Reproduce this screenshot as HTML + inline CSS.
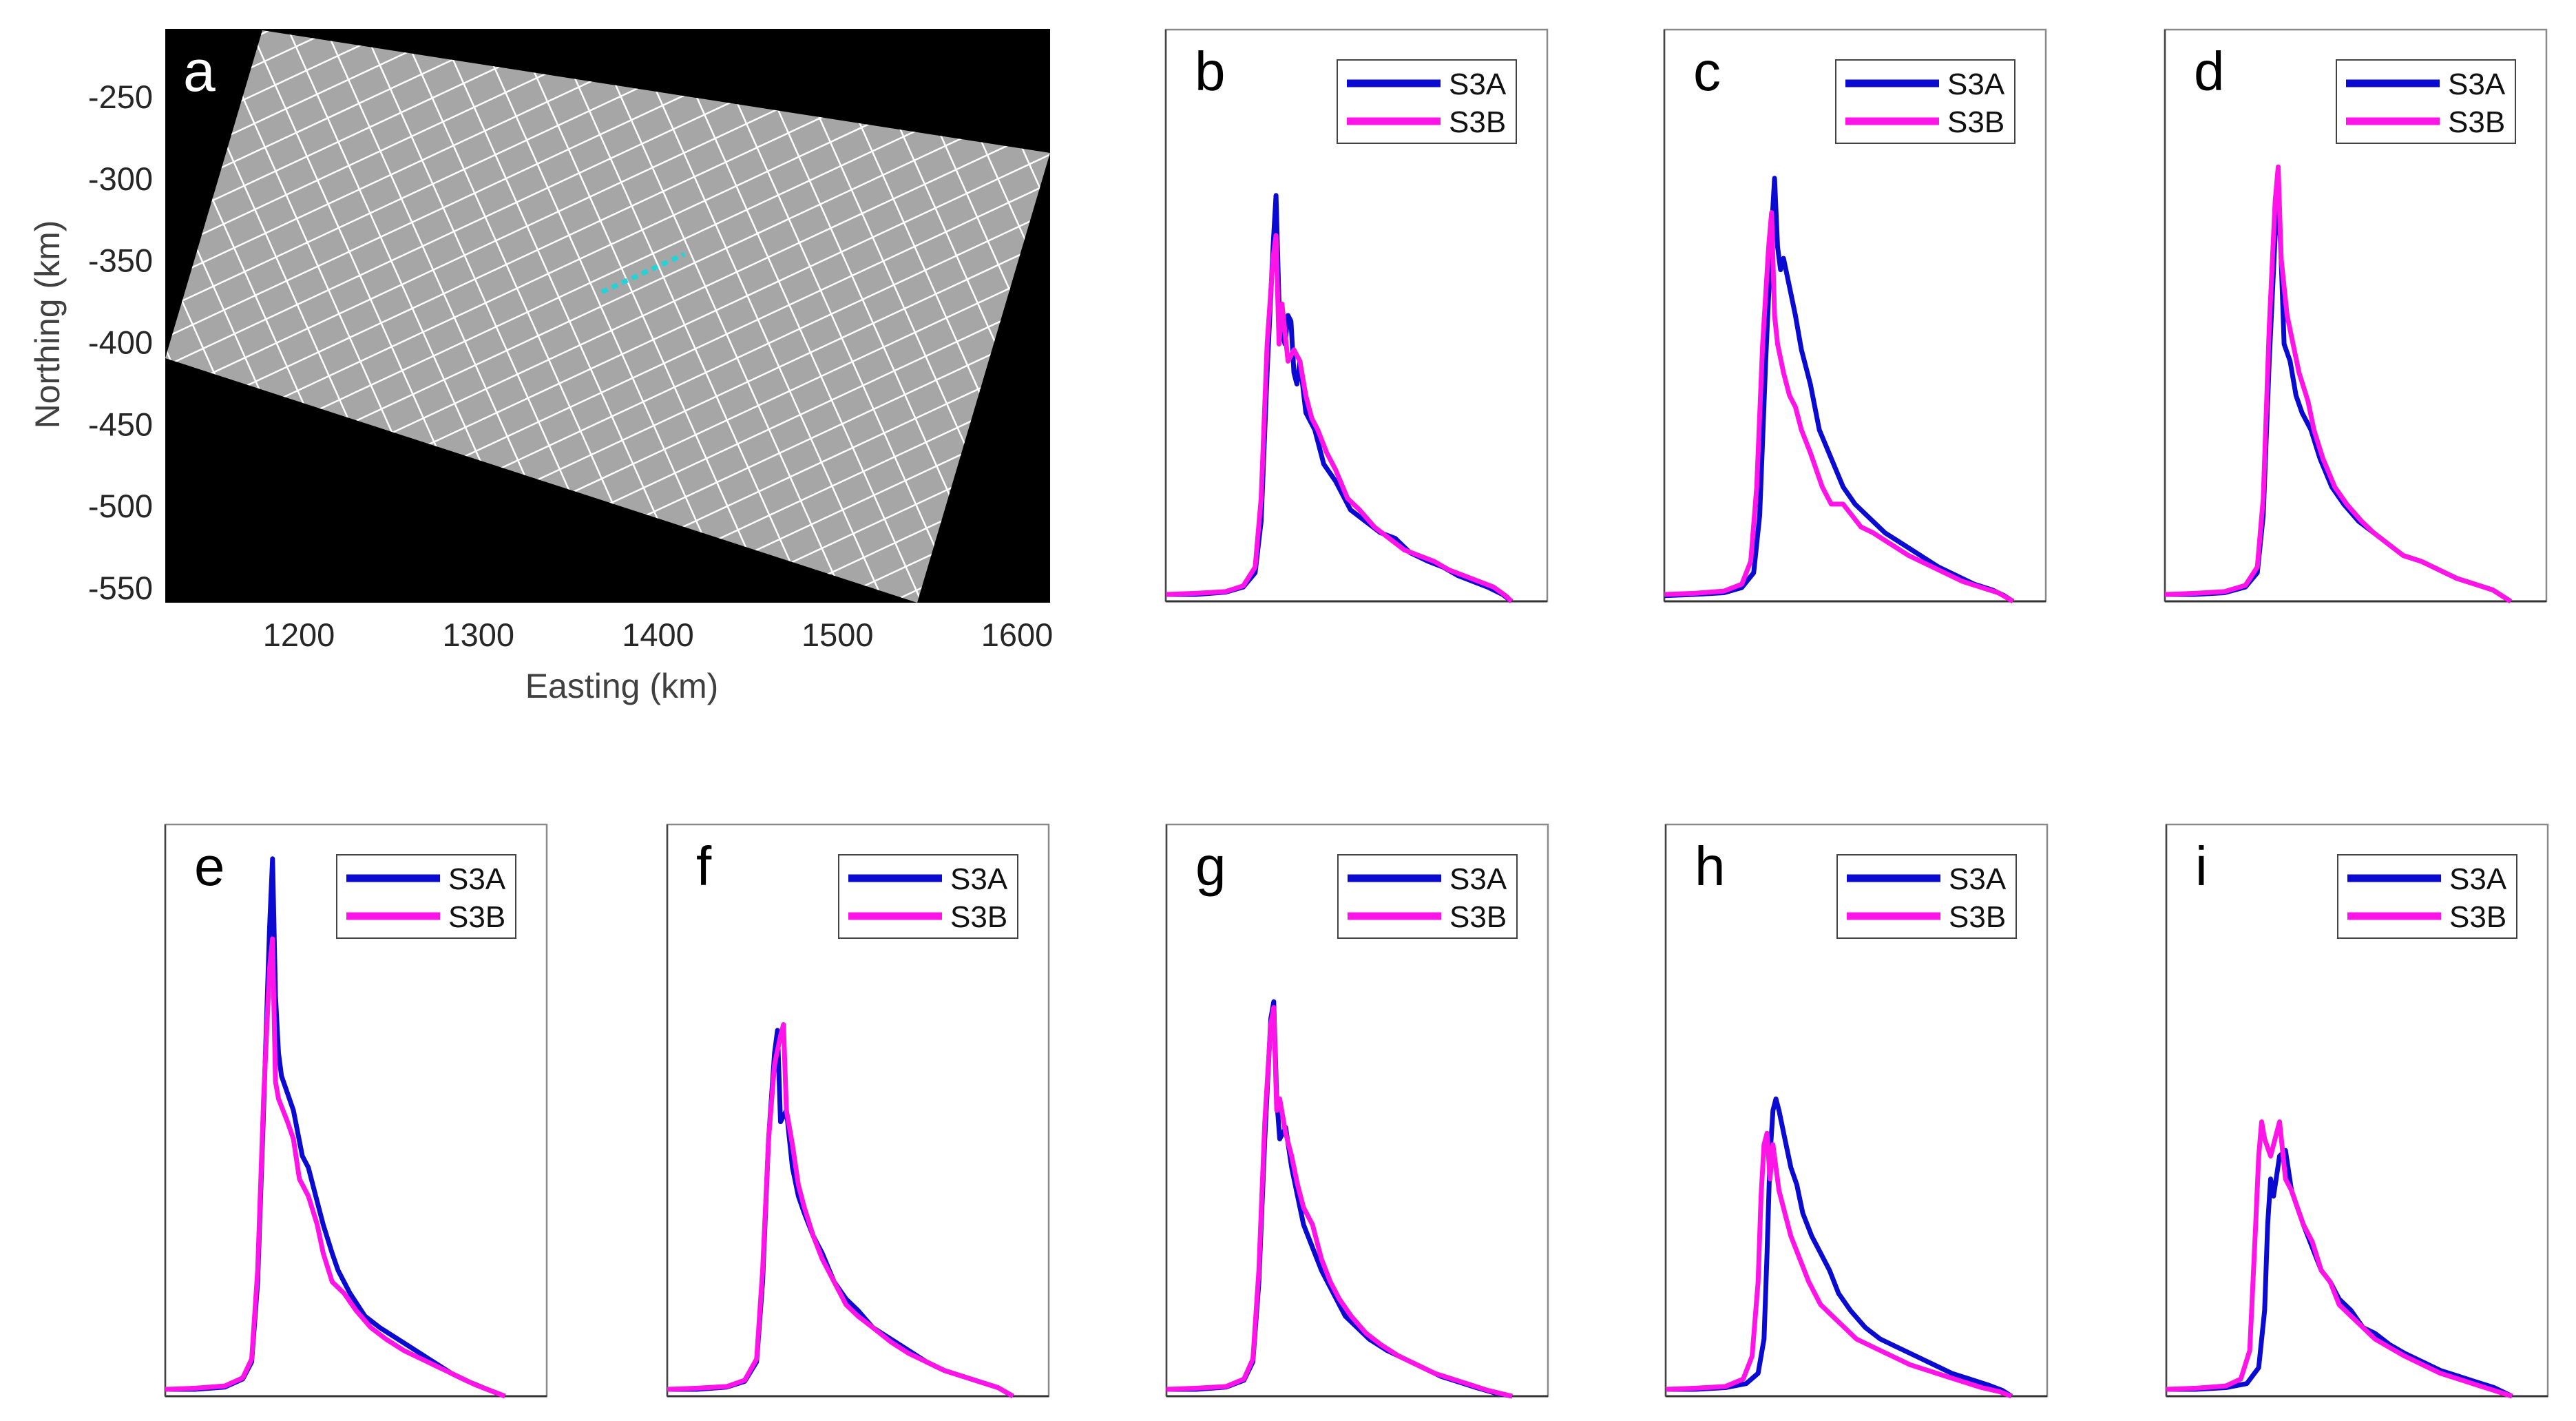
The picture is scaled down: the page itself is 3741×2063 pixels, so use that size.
<!DOCTYPE html>
<html><head><meta charset="utf-8">
<style>
html,body{margin:0;padding:0;background:#fff;width:3741px;height:2063px;overflow:hidden;position:relative;}
svg{display:block;position:absolute;left:0;top:0;overflow:hidden;}
text{font-family:"Liberation Sans",sans-serif;}
</style></head>
<body>
<svg id="fig" width="3741" height="2063" viewBox="0 0 3741 2063" xmlns="http://www.w3.org/2000/svg">
<defs>
<clipPath id="clipA"><rect x="240" y="42" width="1285" height="833"/></clipPath>
<clipPath id="clipSwath"><polygon points="381,44 1525,222 1332,875 240,520"/></clipPath>
</defs>
<g id="panelA">
<rect x="240" y="42" width="1285" height="833" fill="#000"/>
<polygon points="381,44 1525,222 1332,875 240,520" fill="#a6a6a6"/>
<g id="gridLines" clip-path="url(#clipSwath)" stroke="#fff" stroke-width="2.5"></g>
<line x1="874" y1="424" x2="994" y2="369" stroke="#22d3d8" stroke-width="7" stroke-dasharray="9,7"/>
<text x="266" y="132" font-size="84" fill="#fff">a</text>
<g id="xticksA" font-size="47" fill="#262626" text-anchor="middle"></g>
<g id="yticksA" font-size="47" fill="#262626" text-anchor="end"></g>
<text x="903" y="1013" font-size="50" fill="#404040" text-anchor="middle">Easting (km)</text>
<text x="0" y="0" font-size="50" fill="#404040" text-anchor="middle" transform="translate(86,471) rotate(-90)">Northing (km)</text>
</g>
<g id="panels"></g>
</svg>
<script>
const eastTicks = [1200,1300,1400,1500,1600];
const northTicks = [-250,-300,-350,-400,-450,-500,-550];
function ax(e){ return 434 + (e-1200)*(1477-434)/400; }
function ay(n){ return 141 + (-250-n)*(854-141)/300; }

const b_S3A = [[0,.012],[10,.012],[20,.016],[26,.025],[30,.05],[32,.14],[34,.4],[36,.62],[37,.71],[38,.52],[39,.47],[40,.45],[41,.5],[42,.49],[43,.4],[44,.38],[45,.42],[47,.33],[50,.3],[53,.24],[57,.21],[62,.16],[67,.14],[72,.12],[77,.11],[82,.085],[88,.07],[93,.06],[98,.045],[103,.035],[108,.025],[113,.012],[116,0]];
const b_S3B = [[0,.012],[10,.014],[20,.017],[26,.027],[30,.06],[32,.18],[34,.45],[36,.6],[37,.64],[38,.45],[39,.52],[41,.42],[43,.44],[45,.42],[47,.36],[49,.32],[51,.3],[54,.26],[57,.23],[61,.18],[65,.16],[70,.13],[75,.11],[80,.09],[85,.08],[90,.07],[95,.055],[100,.045],[105,.035],[110,.025],[114,.01],[116,0]];
const c_S3A = [[0,.01],[10,.012],[20,.015],[26,.024],[30,.05],[32,.15],[34,.42],[36,.65],[37,.74],[38,.62],[39,.58],[40,.6],[42,.55],[44,.5],[46,.44],[49,.38],[52,.3],[56,.25],[60,.2],[64,.17],[68,.15],[74,.12],[80,.1],[86,.08],[92,.06],[98,.045],[104,.03],[110,.02],[114,.01],[117,0]];
const c_S3B = [[0,.012],[10,.014],[20,.018],[26,.03],[29,.07],[31,.2],[33,.45],[35,.62],[36,.68],[37,.5],[38,.45],[40,.4],[42,.36],[44,.34],[46,.3],[49,.26],[53,.2],[56,.17],[60,.17],[63,.15],[66,.13],[70,.12],[76,.1],[82,.08],[88,.065],[94,.05],[100,.035],[106,.025],[112,.015],[117,0]];
const d_S3A = [[0,.012],[10,.012],[20,.015],[27,.025],[31,.05],[33,.15],[35,.42],[37,.64],[38,.72],[39,.6],[40,.45],[42,.42],[44,.36],[46,.33],[49,.3],[52,.25],[56,.2],[60,.17],[65,.14],[70,.12],[75,.1],[80,.08],[86,.07],[92,.055],[98,.04],[104,.03],[110,.02],[116,0]];
const d_S3B = [[0,.012],[10,.014],[20,.017],[27,.028],[31,.06],[33,.18],[35,.48],[37,.7],[38,.76],[39,.6],[40,.55],[41,.5],[43,.45],[45,.4],[48,.35],[50,.3],[53,.25],[57,.2],[61,.17],[66,.14],[70,.12],[75,.1],[80,.08],[86,.07],[92,.055],[98,.04],[104,.03],[110,.02],[116,0]];
const e_S3A = [[0,.012],[10,.012],[20,.016],[26,.03],[29,.06],[31,.2],[33,.5],[35,.82],[36,.94],[37,.7],[38,.6],[39,.56],[41,.53],[43,.5],[46,.42],[48,.4],[50,.36],[53,.3],[56,.25],[58,.22],[62,.18],[67,.14],[72,.12],[78,.1],[84,.08],[90,.06],[96,.04],[102,.025],[108,.012],[114,0]];
const e_S3B = [[0,.012],[10,.014],[20,.018],[26,.032],[29,.065],[31,.22],[33,.52],[35,.75],[36,.8],[37,.55],[38,.52],[41,.48],[43,.45],[45,.38],[48,.35],[51,.3],[53,.25],[56,.2],[60,.18],[64,.15],[69,.12],[74,.1],[80,.08],[86,.065],[92,.05],[98,.035],[104,.02],[109,.01],[114,0]];
const f_S3A = [[0,.012],[10,.012],[20,.016],[26,.026],[30,.06],[32,.2],[34,.45],[36,.6],[37,.64],[38,.48],[40,.5],[42,.4],[44,.35],[46,.32],[49,.28],[52,.25],[56,.2],[60,.17],[64,.15],[69,.12],[75,.1],[81,.08],[87,.06],[93,.045],[99,.035],[105,.025],[111,.015],[116,0]];
const f_S3B = [[0,.012],[10,.014],[20,.017],[26,.028],[30,.065],[32,.22],[34,.45],[36,.58],[38,.63],[39,.65],[40,.5],[42,.44],[44,.37],[46,.33],[49,.28],[52,.24],[56,.2],[60,.16],[64,.14],[69,.12],[75,.095],[81,.075],[87,.06],[93,.045],[99,.035],[105,.025],[111,.015],[116,0]];
const g_S3A = [[0,.012],[10,.012],[20,.016],[26,.028],[29,.06],[31,.2],[33,.45],[35,.66],[36,.69],[37,.52],[38,.45],[40,.47],[42,.4],[44,.35],[46,.3],[49,.26],[52,.22],[56,.18],[60,.14],[64,.12],[68,.1],[74,.08],[80,.065],[86,.05],[92,.035],[98,.025],[104,.015],[110,.006],[116,0]];
const g_S3B = [[0,.012],[10,.014],[20,.017],[26,.03],[29,.065],[31,.22],[33,.48],[35,.65],[36,.68],[37,.5],[38,.52],[40,.46],[42,.42],[44,.37],[46,.33],[49,.3],[52,.24],[55,.2],[58,.17],[62,.14],[67,.11],[72,.09],[78,.07],[84,.055],[90,.04],[96,.03],[102,.02],[108,.01],[116,0]];
const h_S3A = [[0,.012],[10,.012],[20,.015],[27,.022],[31,.04],[33,.1],[34,.25],[35,.42],[36,.5],[37,.52],[38,.5],[40,.45],[42,.4],[44,.37],[46,.32],[49,.28],[52,.25],[55,.22],[58,.18],[62,.15],[67,.12],[72,.1],[78,.085],[84,.07],[90,.055],[96,.04],[102,.03],[108,.02],[113,.01],[116,0]];
const h_S3B = [[0,.012],[10,.014],[20,.017],[26,.03],[29,.07],[31,.2],[32,.35],[33,.44],[34,.46],[35,.38],[36,.44],[38,.36],[40,.32],[42,.28],[45,.24],[48,.2],[52,.16],[56,.14],[60,.12],[64,.1],[70,.085],[76,.07],[82,.055],[88,.045],[94,.035],[100,.025],[106,.015],[112,.008],[116,0]];
const i_S3A = [[0,.012],[10,.012],[20,.015],[27,.022],[31,.05],[33,.15],[34,.3],[35,.38],[36,.35],[38,.42],[40,.43],[42,.36],[44,.33],[46,.3],[49,.26],[52,.22],[55,.2],[58,.17],[62,.15],[66,.12],[70,.11],[75,.09],[80,.075],[86,.06],[92,.045],[98,.035],[104,.025],[110,.015],[116,0]];
const i_S3B = [[0,.012],[10,.014],[20,.018],[25,.03],[28,.08],[30,.3],[31,.42],[32,.48],[33,.45],[35,.42],[37,.46],[38,.48],[40,.38],[42,.36],[44,.33],[46,.3],[49,.27],[52,.22],[55,.2],[58,.16],[62,.14],[66,.12],[70,.1],[75,.085],[80,.07],[86,.055],[92,.04],[98,.03],[104,.02],[110,.01],[116,0]];

const panelLetters = ['b','c','d','e','f','g','h','i'];
const seriesA = [b_S3A,c_S3A,d_S3A,e_S3A,f_S3A,g_S3A,h_S3A,i_S3A];
const seriesB = [b_S3B,c_S3B,d_S3B,e_S3B,f_S3B,g_S3B,h_S3B,i_S3B];
const legendLabels = ['S3A','S3B'];

const NS = 'http://www.w3.org/2000/svg';
function mk(tag, attrs, parent){
  const el = document.createElementNS(NS, tag);
  for (const k in attrs) el.setAttribute(k, attrs[k]);
  parent.appendChild(el);
  return el;
}
// clip infinite line (point p, dir d) to rect [240,1525]x[42,875]
function clipLine(p, d){
  const xmin=240,xmax=1525,ymin=42,ymax=875;
  let t0=-1e5, t1=1e5;
  const pq = [[-d[0], p[0]-xmin],[d[0], xmax-p[0]],[-d[1], p[1]-ymin],[d[1], ymax-p[1]]];
  for (const [pp,qq] of pq){
    if (Math.abs(pp)<1e-9){ if (qq<0) return null; continue; }
    const r = qq/pp;
    if (pp<0){ if (r>t0) t0=r; } else { if (r<t1) t1=r; }
  }
  if (t0>=t1) return null;
  return [p[0]+d[0]*t0, p[1]+d[1]*t0, p[0]+d[0]*t1, p[1]+d[1]*t1];
}

const gl = document.getElementById('gridLines');
const a1 = -25*Math.PI/180, a2 = 66*Math.PI/180;
const d1 = [Math.cos(a1), Math.sin(a1)], d2 = [Math.cos(a2), Math.sin(a2)];
const n1 = [-d1[1], d1[0]], n2 = [-d2[1], d2[0]];
for (let k=-30;k<=30;k++){
  const s1 = clipLine([880 + n1[0]*37.8*k, 400 + n1[1]*37.8*k], d1);
  if (s1){
    const ln = mk('line',{x1:s1[0].toFixed(1),y1:s1[1].toFixed(1),x2:s1[2].toFixed(1),y2:s1[3].toFixed(1)},gl);
    
    
  }
  const s2 = clipLine([753 + n2[0]*50.2*k, 300 + n2[1]*50.2*k], d2);
  if (s2){
    const ln2 = mk('line',{x1:s2[0].toFixed(1),y1:s2[1].toFixed(1),x2:s2[2].toFixed(1),y2:s2[3].toFixed(1)},gl);
    
    
  }
}
const xt = document.getElementById('xticksA');
eastTicks.forEach(v=>{
  const t = mk('text',{x:ax(v),y:938},xt); t.textContent = v;
  
  
});
const yt = document.getElementById('yticksA');
northTicks.forEach(v=>{
  const t = mk('text',{x:222,y:ay(v)+16},yt); t.textContent = v;
  
  
});

const lefts = [1693,2417,3144,240,969,1694,2419,3146];
const tops = [43,43,43,1197,1197,1197,1197,1197];
const PW = 554, PH = 830;
const root = document.getElementById('panels');
panelLetters.forEach((Lt,i)=>{
  const x0 = lefts[i], y0 = tops[i];
  const g = mk('g',{},root);
  
  
  const fr = mk('rect',{x:x0,y:y0,width:PW,height:PH,fill:'#fff',stroke:'#8a8a8a','stroke-width':2.5},g);
  
  
  const bl = mk('line',{x1:x0,y1:y0+PH,x2:x0+PW,y2:y0+PH,stroke:'#333','stroke-width':3},g);
  
  
  const lft = mk('line',{x1:x0,y1:y0,x2:x0,y2:y0+PH,stroke:'#444','stroke-width':2.5},g);
  
  
  const sx = gt => x0 + gt/128*PW;
  const sy = p => y0 + PH - p*PH;
  [[seriesA[i],'#0a0ad0'],[seriesB[i],'#ff14e8']].forEach((s,si)=>{
    const d = s[0].map((pt,j)=>(j?'L':'M')+sx(pt[0]).toFixed(1)+','+sy(pt[1]).toFixed(1)).join(' ');
    const path = mk('path',{d:d,fill:'none',stroke:s[1],'stroke-width':7,'stroke-linejoin':'round'},g);
    
    
  });
  const lab = mk('text',{x:x0+42,y:y0+88,'font-size':80,fill:'#000'},g);
  lab.textContent = Lt;
  
  
  const lg = mk('g',{},g);
  
  
  mk('rect',{x:x0+249,y:y0+44,width:260,height:121,fill:'#fff',stroke:'#444','stroke-width':2},lg);
  legendLabels.forEach((nm,k)=>{
    const yy = y0 + 78 + k*55;
    const ll = mk('line',{x1:x0+263,y1:yy,x2:x0+399,y2:yy,stroke:k?'#ff14e8':'#0a0ad0','stroke-width':11},lg);
    
    
    const tt = mk('text',{x:x0+411,y:yy+16,'font-size':44,fill:'#111'},lg);
    tt.textContent = nm;
    
    
  });
});
</script>
</body></html>
